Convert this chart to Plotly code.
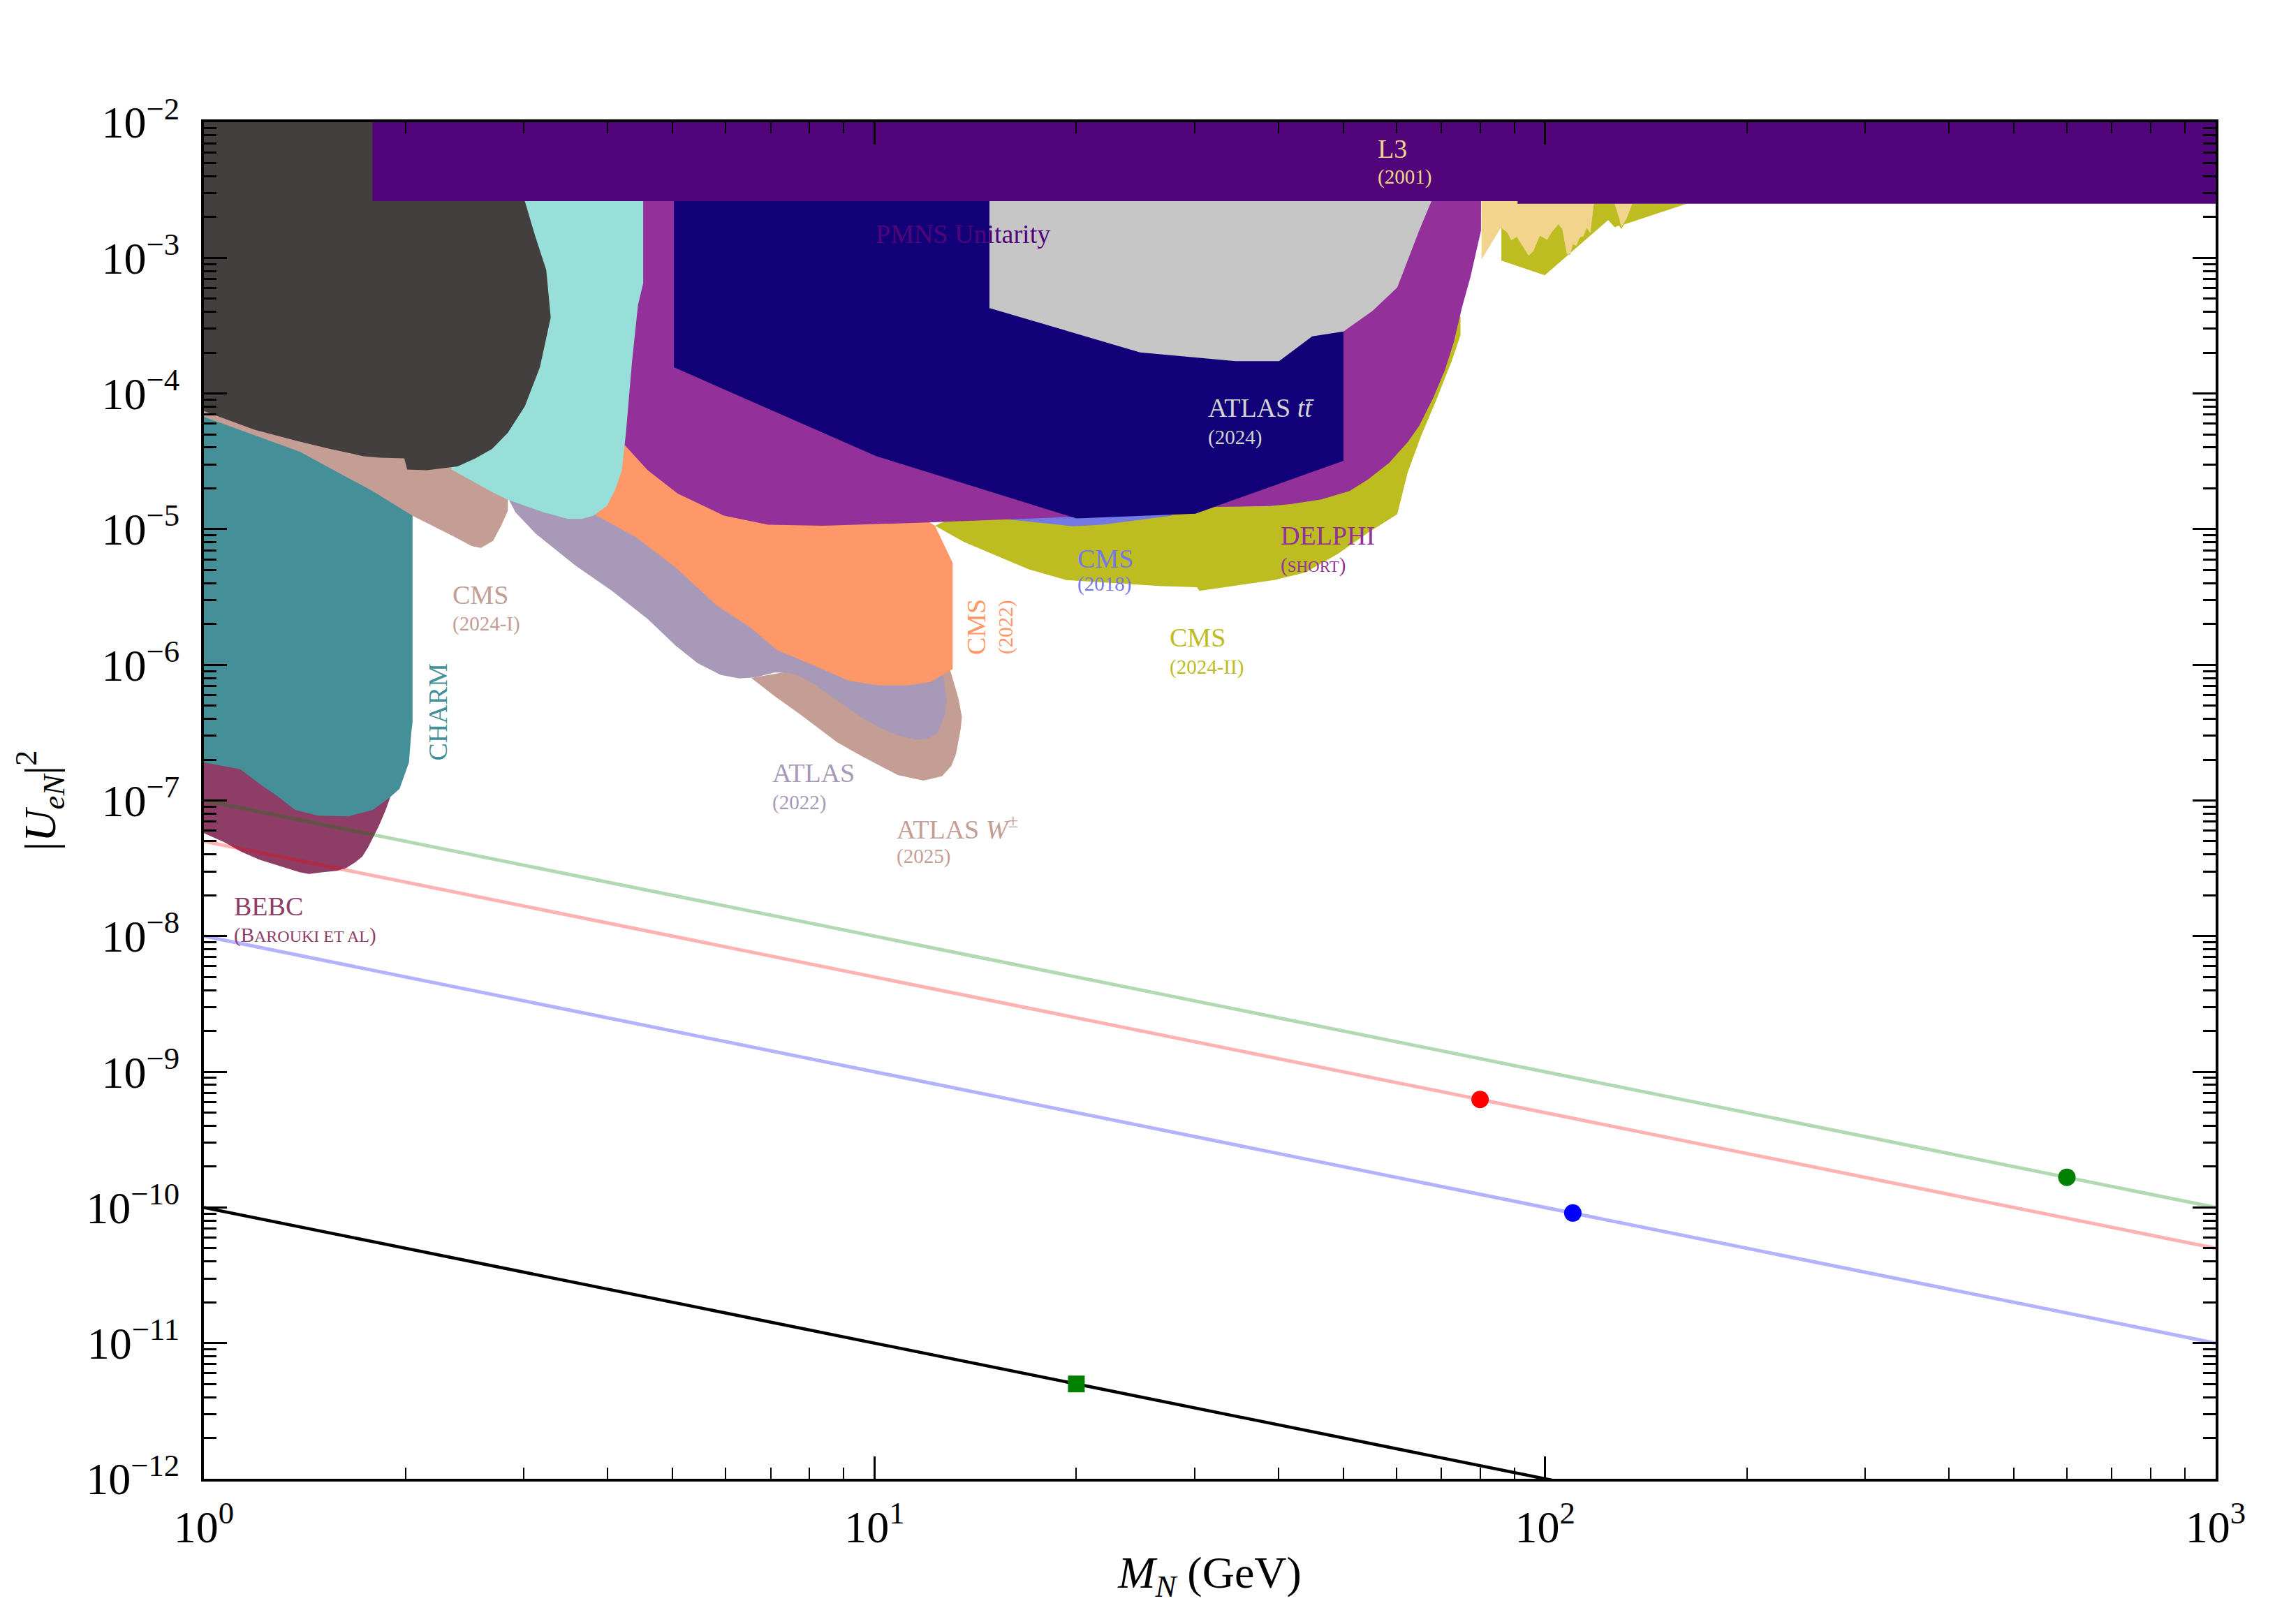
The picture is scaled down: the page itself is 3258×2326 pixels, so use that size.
import math
import plotly.graph_objects as go

# Colour scheme
COLORS = {
    'band': '#52057a',
    'darkgray': '#433f3e',
    'cyan': '#98dfd9',
    'tan': '#c49d94',
    'teal': '#448f98',
    'bebc': '#8d3d66',
    'lavender': '#a899b8',
    'orange': '#ff9868',
    'delphi': '#93309a',
    'navy': '#110077',
    'gray': '#c6c6c6',
    'olive': '#bdbd22',
    'cms2018': '#7479e4',
    'l3': '#f2d48c',
}

# ---- region outlines: M_N (GeV), |U_eN|^2 ----
band_m = [1.784, 1.784, 91.0, 91.0, 1000, 1000]
band_u = [1e-2, 2.62e-3, 2.62e-3, 2.51e-3, 2.51e-3, 1e-2]

darkgray_m = [1.0, 2.9, 3.01, 3.12, 3.24, 3.29, 3.17, 3.01, 2.84, 2.69, 2.54, 2.39, 2.15, 2.01,
              1.99, 1.83, 1.73, 1.53, 1.37, 1.19, 1.0]
darkgray_u = [1e-2, 1e-2, 2.62e-3, 1.44e-3, 8.13e-4, 3.64e-4, 1.56e-4, 8.05e-5, 5.14e-5, 3.90e-5,
              3.33e-5, 2.90e-5, 2.72e-5, 2.75e-5, 3.33e-5, 3.37e-5, 3.45e-5, 3.94e-5, 4.50e-5,
              5.41e-5, 7.43e-5]

cyan_m = [2.34, 4.52, 4.52, 4.44, 4.35, 4.26, 4.20, 4.11, 3.99, 3.81, 3.66, 3.49, 3.21, 2.84,
          2.69, 2.40, 2.34]
cyan_u = [1e-2, 1e-2, 6.52e-4, 4.50e-4, 1.73e-4, 5.14e-5, 2.72e-5, 1.98e-5, 1.48e-5, 1.26e-5,
          1.19e-5, 1.19e-5, 1.33e-5, 1.65e-5, 1.88e-5, 2.58e-5, 2.75e-5]

cms2024i_m = [1.0, 1.39, 1.78, 2.05, 2.34, 2.51, 2.59, 2.70, 2.78, 2.84, 2.84, 2.6, 2.3, 1.5, 1.0]
cms2024i_u = [6.73e-5, 3.72e-5, 1.92e-5, 1.25e-5, 9.0e-6, 7.5e-6, 7.28e-6, 8.22e-6, 1.08e-5,
              1.37e-5, 1.75e-5, 3.1e-5, 4.0e-5, 5.5e-5, 7.9e-5]

charm_m = [1.0, 1.39, 1.78, 2.047, 2.047, 2.038, 2.022, 1.958, 1.897, 1.787, 1.643, 1.481, 1.367,
           1.292, 1.212, 1.133, 1.0]
charm_u = [7.0e-5, 3.9e-5, 2.0e-5, 1.35e-5, 3.76e-7, 3.14e-7, 1.91e-7, 1.22e-7, 1.06e-7, 8.53e-8,
           7.64e-8, 7.73e-8, 8.53e-8, 1.06e-7, 1.32e-7, 1.70e-7, 1.91e-7]

bebc_m = [1.0, 1.93, 1.897, 1.867, 1.823, 1.794, 1.758, 1.723, 1.683, 1.630, 1.578, 1.504, 1.434,
          1.389, 1.345, 1.262, 1.212, 1.137, 1.075, 1.0]
bebc_u = [2.5e-7, 2.0e-7, 1.06e-7, 8.53e-8, 6.47e-8, 5.52e-8, 4.53e-8, 3.86e-8, 3.51e-8, 3.18e-8,
          3.03e-8, 2.96e-8, 2.87e-8, 2.96e-8, 3.11e-8, 3.43e-8, 3.65e-8, 4.19e-8, 4.90e-8, 5.74e-8]

atlas2022_m = [2.84, 2.915, 3.124, 3.584, 4.056, 4.592, 5.056, 5.447, 5.901, 6.292, 6.652, 7.093,
               7.383, 7.684, 8.125, 8.801, 9.533, 10.16, 10.83, 11.55, 12.02, 12.41, 12.71, 12.81,
               12.71, 12.66, 12.5, 8.0, 5.0, 3.7, 2.84]
atlas2022_u = [1.70e-5, 1.33e-5, 9.27e-6, 5.38e-6, 3.52e-6, 2.17e-6, 1.38e-6, 1.03e-6, 8.41e-7,
               7.94e-7, 8.11e-7, 8.77e-7, 8.77e-7, 8.41e-7, 7.2e-7, 5.46e-7, 4.14e-7, 3.46e-7,
               3.02e-7, 2.81e-7, 2.85e-7, 3.14e-7, 4.14e-7, 5.46e-7, 7.2e-7, 8.41e-7, 1.5e-6,
               4e-6, 1.0e-5, 1.4e-5, 1.7e-5]

atlasw_m = [6.55, 7.09, 7.75, 8.80, 9.53, 10.83, 11.83, 12.61, 13.02, 13.23, 13.45, 13.5, 13.34,
            13.13, 12.97, 12.5, 8.0]
atlasw_u = [8.0e-7, 5.9e-7, 4.31e-7, 2.68e-7, 2.15e-7, 1.54e-7, 1.40e-7, 1.51e-7, 1.8e-7, 2.2e-7,
            3.4e-7, 4.14e-7, 5.68e-7, 7.48e-7, 9.12e-7, 1.5e-6, 9.5e-7]

cms2022_m = [4.217, 3.7, 3.84, 4.407, 5.056, 5.802, 6.548, 7.149, 8.125, 9.16, 10.16, 11.18, 12.12,
             13.08, 13.08, 12.31, 11.0, 5.5, 4.217]
cms2022_u = [4.47e-5, 1.5e-5, 1.27e-5, 8.73e-6, 5.21e-6, 2.77e-6, 1.86e-6, 1.29e-6, 9.87e-7,
             7.64e-7, 7.05e-7, 7.05e-7, 7.48e-7, 9.31e-7, 5.64e-6, 1.06e-5, 1.5e-5, 3e-5, 4.47e-5]

delphi_m = [4.2, 4.2, 4.59, 5.09, 5.96, 6.94, 8.39, 12.0, 19.8, 30.1, 32.2, 38.9, 41.8, 46.4, 51.1,
            54.4, 58.5, 62.4, 64.9, 68.1, 70.9, 73.1, 75.2, 77.4, 80.25, 80.3, 80.3]
delphi_u = [1e-2, 4.4e-5, 2.72e-5, 1.83e-5, 1.26e-5, 1.08e-5, 1.06e-5, 1.12e-5, 1.23e-5, 1.30e-5,
            1.46e-5, 1.48e-5, 1.53e-5, 1.66e-5, 1.91e-5, 2.32e-5, 3.07e-5, 4.38e-5, 5.77e-5,
            9.27e-5, 1.49e-4, 2.39e-4, 4.33e-4, 7.23e-4, 1.59e-3, 2.62e-3, 1e-2]

atlastt_m = [5.022, 5.022, 10.07, 20.0, 30.07, 50.05, 50.05]
atlastt_u = [1e-2, 1.56e-4, 3.45e-5, 1.2e-5, 1.3e-5, 3.19e-5, 1e-2]

gray_m = [14.84, 14.84, 24.89, 34.55, 40.11, 44.95, 50.05, 55.3, 60.2, 64.9, 67.7, 68.5]
gray_u = [1e-2, 4.26e-4, 2.01e-4, 1.73e-4, 1.73e-4, 2.64e-4, 2.87e-4, 4.07e-4, 6.05e-4, 1.59e-3,
          2.62e-3, 1e-2]

cms2018_m = [15.29, 19.8, 21.88, 27.77, 27.77, 15.29]
cms2018_u = [1.2e-5, 1.05e-5, 1.08e-5, 1.26e-5, 2.5e-5, 2.5e-5]

cms2024ii_m = [12.31, 13.58, 16.97, 19.29, 26.84, 30.24, 30.52, 34.07, 39.47, 43.9, 49.1, 54.4,
               60.2, 62.4, 65.4, 68.6, 72.6, 74.8, 74.8, 70.0, 30.0, 13.0]
cms2024ii_u = [1.06e-5, 8.07e-6, 5.07e-6, 4.22e-6, 3.80e-6, 3.73e-6, 3.51e-6, 3.80e-6, 4.22e-6,
               4.79e-6, 6.58e-6, 9.38e-6, 1.29e-5, 2.62e-5, 4.93e-5, 8.57e-5, 1.74e-4, 2.69e-4,
               3.70e-4, 4.0e-4, 1.5e-5, 1.2e-5]

l3_m = [80.4, 80.4, 85.87, 87.95, 89.02, 90.78, 94.5, 96.03, 98.2, 100.7, 102.4, 104.7, 106.1,
        107.8, 108.9, 110.0, 111.3, 112.7, 114.0, 115.4, 116.8, 118.2, 127.0, 129.1, 129.9, 132.2,
        134.9, 134.9]
l3_u = [2.62e-3, 9.72e-4, 1.66e-3, 1.53e-3, 1.35e-3, 1.43e-3, 1.04e-3, 1.12e-3, 1.46e-3, 1.36e-3,
        1.56e-3, 1.77e-3, 1.63e-3, 1.07e-3, 1.05e-3, 1.26e-3, 1.23e-3, 1.42e-3, 1.44e-3, 1.67e-3,
        1.53e-3, 2.51e-3, 2.51e-3, 1.94e-3, 1.69e-3, 1.94e-3, 2.51e-3, 2.62e-3]

olive_top_m = [86.07, 87.95, 89.02, 90.78, 94.5, 96.03, 98.2, 100.7, 102.4, 104.7, 106.1, 107.8,
               108.9, 110.0, 111.3, 112.7, 114.0, 115.4, 116.8, 118.2, 127.0, 129.1, 129.9, 132.2,
               134.9, 162.7, 131.2, 129.9, 128.9, 127.0, 124.2, 108.3, 99.9, 86.07]
olive_top_u = [1.66e-3, 1.53e-3, 1.35e-3, 1.43e-3, 1.04e-3, 1.12e-3, 1.46e-3, 1.36e-3, 1.56e-3,
               1.77e-3, 1.63e-3, 1.07e-3, 1.05e-3, 1.26e-3, 1.23e-3, 1.42e-3, 1.44e-3, 1.67e-3,
               1.53e-3, 2.51e-3, 2.51e-3, 1.94e-3, 1.69e-3, 1.94e-3, 2.51e-3, 2.51e-3, 1.76e-3,
               1.63e-3, 1.73e-3, 1.68e-3, 1.90e-3, 1.05e-3, 7.43e-4, 9.53e-4]

# ---- benchmark lines and points ----
line_m = [1.0, 1000.0]
green_u = [1e-7, 1e-10]
red_u = [5e-8, 5e-11]
blue_u = [1e-8, 1e-11]
black_u = [1e-10, 1e-13]

point_m = [80.0, 110.0, 600.0]
point_u = [6.25e-10, 9.1e-11, 1.67e-10]
point_colors = ['red', 'blue', 'green']
square_m = [20.0]
square_u = [5e-12]

# ---- labels: (text, M_N, |U|^2, colour, size) ----
MAIN, SUB = 38, 29
labels = [
    ('L3', 56.0, 6.35e-3, COLORS['l3'], MAIN),
    ('(2001)', 56.0, 3.94e-3, COLORS['l3'], SUB),
    ('PMNS Unitarity', 10.0, 1.50e-3, COLORS['band'], MAIN),
    ('ATLAS <i>tt̄</i>', 31.3, 7.85e-5, '#d4d4d4', MAIN),
    ('(2024)', 31.3, 4.74e-5, '#d4d4d4', SUB),
    ('DELPHI', 40.1, 8.97e-6, COLORS['delphi'], MAIN),
    ("(<span style='font-size:23px'>SHORT</span>)", 40.1, 5.42e-6, COLORS['delphi'], SUB),
    ('CMS', 19.98, 6.09e-6, COLORS['cms2018'], MAIN),
    ('(2018)', 19.98, 3.93e-6, COLORS['cms2018'], SUB),
    ('CMS', 27.4, 1.59e-6, COLORS['olive'], MAIN),
    ('(2024-II)', 27.4, 9.62e-7, COLORS['olive'], SUB),
    ('ATLAS', 7.01, 1.59e-7, COLORS['lavender'], MAIN),
    ('(2022)', 7.01, 9.6e-8, COLORS['lavender'], SUB),
    ('ATLAS <i>W</i><sup>±</sup>', 10.73, 6.37e-8, COLORS['tan'], MAIN),
    ('(2025)', 10.73, 3.87e-8, COLORS['tan'], SUB),
    ('CMS', 2.339, 3.29e-6, COLORS['tan'], MAIN),
    ('(2024-I)', 2.339, 2.01e-6, COLORS['tan'], SUB),
    ('BEBC', 1.102, 1.67e-8, COLORS['bebc'], MAIN),
    ("(B<span style='font-size:24px'>AROUKI ET AL</span>)", 1.102, 1.02e-8, COLORS['bebc'], SUB),
]
rot_labels = [
    ('CHARM', 2.23, 4.48e-7, COLORS['teal'], MAIN),
    ('CMS', 14.18, 1.90e-6, COLORS['orange'], MAIN),
    ('(2022)', 15.7, 1.89e-6, COLORS['orange'], SUB),
]


def region(m, u, color):
    return go.Scatter(x=m, y=u, mode='lines', fill='toself', fillcolor=color,
                      line=dict(width=0, color=color), hoverinfo='skip', showlegend=False)


fig = go.Figure()

# layering, back to front
for m, u, c in [
    (cms2024ii_m, cms2024ii_u, COLORS['olive']),
    (cms2018_m, cms2018_u, COLORS['cms2018']),
    (bebc_m, bebc_u, COLORS['bebc']),
    (charm_m, charm_u, COLORS['teal']),
    (atlasw_m, atlasw_u, COLORS['tan']),
    (atlas2022_m, atlas2022_u, COLORS['lavender']),
    (cms2022_m, cms2022_u, COLORS['orange']),
    (delphi_m, delphi_u, COLORS['delphi']),
    (atlastt_m, atlastt_u, COLORS['navy']),
    (gray_m, gray_u, COLORS['gray']),
    (cms2024i_m, cms2024i_u, COLORS['tan']),
    (cyan_m, cyan_u, COLORS['cyan']),
    (darkgray_m, darkgray_u, COLORS['darkgray']),
    (l3_m, l3_u, COLORS['l3']),
    (olive_top_m, olive_top_u, COLORS['olive']),
    (band_m, band_u, COLORS['band']),
]:
    fig.add_trace(region(m, u, c))

for u, c in [(green_u, 'rgba(0,128,0,0.3)'), (red_u, 'rgba(255,0,0,0.3)'),
             (blue_u, 'rgba(0,0,255,0.3)')]:
    fig.add_trace(go.Scatter(x=line_m, y=u, mode='lines', line=dict(color=c, width=5),
                             hoverinfo='skip', showlegend=False))
fig.add_trace(go.Scatter(x=line_m, y=black_u, mode='lines', line=dict(color='black', width=4.5),
                         hoverinfo='skip', showlegend=False))

fig.add_trace(go.Scatter(x=point_m, y=point_u, mode='markers',
                         marker=dict(color=point_colors, size=25, symbol='circle'),
                         showlegend=False))
fig.add_trace(go.Scatter(x=square_m, y=square_u, mode='markers',
                         marker=dict(color='green', size=24, symbol='square'),
                         showlegend=False))

for text, m, u, c, s in labels:
    fig.add_annotation(x=math.log10(m), y=math.log10(u), text=text, showarrow=False,
                       xanchor='left', yanchor='middle', font=dict(color=c, size=s))
for text, m, u, c, s in rot_labels:
    fig.add_annotation(x=math.log10(m), y=math.log10(u), text=text, showarrow=False,
                       textangle=-90, xanchor='center', yanchor='middle',
                       font=dict(color=c, size=s))

# ticks
x_major = [10 ** e for e in range(0, 4)]
x_text = [f'10<sup>{e}</sup>' for e in range(0, 4)]
x_minor = [k * 10 ** e for e in range(0, 3) for k in range(2, 10)]
y_major = [10.0 ** e for e in range(-12, -1)]
y_text = [f'10<sup>\u2212{-e}</sup>' for e in range(-12, -1)]
y_minor = [k * 10.0 ** e for e in range(-12, -2) for k in range(2, 10)]

axis_common = dict(
    type='log', showgrid=False, zeroline=False, showline=True, linewidth=4,
    linecolor='black', mirror='ticks', ticks='inside', tickcolor='black',
    tickmode='array', tickfont=dict(size=64, color='black'), automargin=False,
)

# page body has an 8px default margin, so the figure is trimmed by that amount
fig.update_layout(
    template='none',
    width=3250, height=2318,
    margin=dict(l=284, r=85, t=167, b=208),
    paper_bgcolor='white', plot_bgcolor='white',
    font=dict(family='Liberation Serif, DejaVu Serif, serif', color='black', size=34),
    showlegend=False,
)
fig.update_xaxes(
    **axis_common, range=[0, 3], tickvals=x_major, ticktext=x_text, ticklen=32, tickwidth=2.5,
    ticklabelstandoff=10,
    minor=dict(tickmode='array', tickvals=x_minor, ticks='inside', ticklen=16, tickwidth=2,
               tickcolor='black', showgrid=False),
    title=dict(text='<i>M</i><sub><i>N</i></sub> (GeV)', font=dict(size=64), standoff=8),
)
fig.update_yaxes(
    **axis_common, range=[-12, -2], tickvals=y_major, ticktext=y_text, ticklen=33, tickwidth=3,
    ticklabelstandoff=18,
    minor=dict(tickmode='array', tickvals=y_minor, ticks='inside', ticklen=18, tickwidth=2.5,
               tickcolor='black', showgrid=False),
    title=dict(text='|<i>U</i><sub><i>eN</i></sub>|<sup>2</sup>', font=dict(size=64), standoff=24),
)

fig.write_html('out.html')
